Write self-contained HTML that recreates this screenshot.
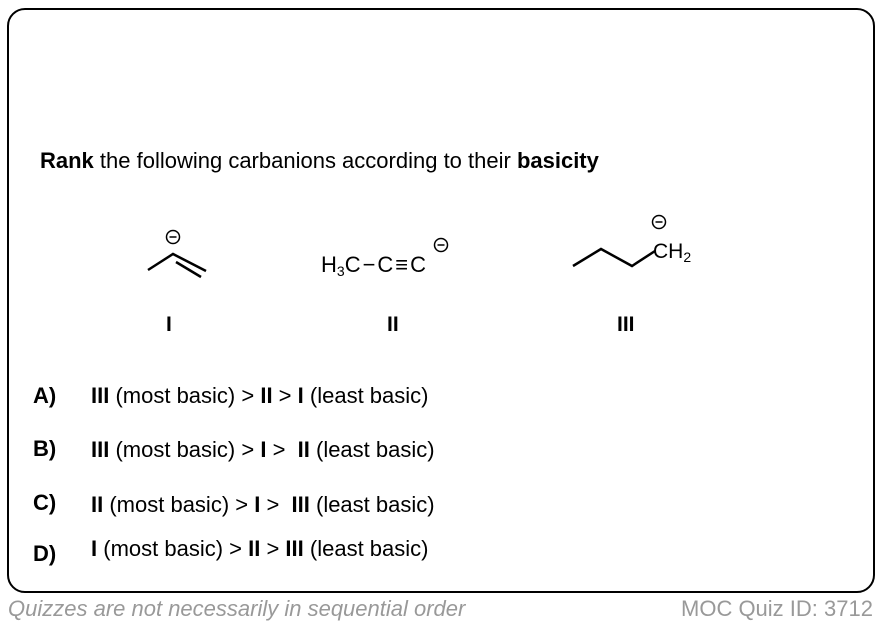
<!DOCTYPE html>
<html><head><style>
body{margin:0;width:882px;height:626px;background:#fff;font-family:"Liberation Sans",sans-serif;position:relative;overflow:hidden}
.card{position:absolute;left:7px;top:8px;width:864px;height:581px;border:2px solid #000;border-radius:18px}
.t{position:absolute;font-size:22px;color:#000;white-space:nowrap}
.f{position:absolute;font-size:22px;color:#999;font-style:italic;white-space:nowrap}
</style></head><body>
<div class="card"></div>
<div class="t" style="left:40px;top:148px"><b>Rank</b> the following carbanions according to their <b>basicity</b></div>
<svg width="882" height="626" style="position:absolute;left:0;top:0">
<g stroke="#000" stroke-width="2.5" fill="none">
<polyline points="148,270 173,254 206,271"/>
<line x1="176" y1="262" x2="201" y2="277"/>
<circle cx="173" cy="237" r="6.5" stroke-width="1.5"/>
<line x1="169.5" y1="237" x2="176.5" y2="237" stroke-width="1.5"/>
<circle cx="441" cy="245" r="6.5" stroke-width="1.5"/>
<line x1="437.5" y1="245" x2="444.5" y2="245" stroke-width="1.5"/>
<polyline points="573,266 601,249 632,266 655,251"/>
<circle cx="659" cy="222" r="6.5" stroke-width="1.5"/>
<line x1="655.5" y1="222" x2="662.5" y2="222" stroke-width="1.5"/>
</g>
<text x="321" y="272" font-size="22" font-family="Liberation Sans">H<tspan font-size="14" dy="4">3</tspan><tspan dy="-4" letter-spacing="2">C−C≡C</tspan></text>
<text x="653" y="258" font-size="21" font-family="Liberation Sans">CH<tspan font-size="14" dy="4">2</tspan></text>
<text x="166" y="331" font-size="21" font-weight="bold" font-family="Liberation Sans">I</text>
<text x="387" y="331" font-size="21" font-weight="bold" font-family="Liberation Sans">II</text>
<text x="617" y="331" font-size="21" font-weight="bold" font-family="Liberation Sans">III</text>
</svg>
<div class="t" style="left:33px;top:383px"><b>A)</b></div>
<div class="t" style="left:91px;top:383px"><b>III</b> (most basic) &gt; <b>II</b> &gt; <b>I</b> (least basic)</div>
<div class="t" style="left:33px;top:436px"><b>B)</b></div>
<div class="t" style="left:91px;top:437px"><b>III</b> (most basic) &gt; <b>I</b> &gt;&nbsp; <b>II</b> (least basic)</div>
<div class="t" style="left:33px;top:490px"><b>C)</b></div>
<div class="t" style="left:91px;top:492px"><b>II</b> (most basic) &gt; <b>I</b> &gt;&nbsp; <b>III</b> (least basic)</div>
<div class="t" style="left:33px;top:541px"><b>D)</b></div>
<div class="t" style="left:91px;top:536px"><b>I</b> (most basic) &gt; <b>II</b> &gt; <b>III</b> (least basic)</div>
<div class="f" style="left:8px;top:596px">Quizzes are not necessarily in sequential order</div>
<div class="f" style="left:681px;top:596px;font-style:normal">MOC Quiz ID: 3712</div>
</body></html>
